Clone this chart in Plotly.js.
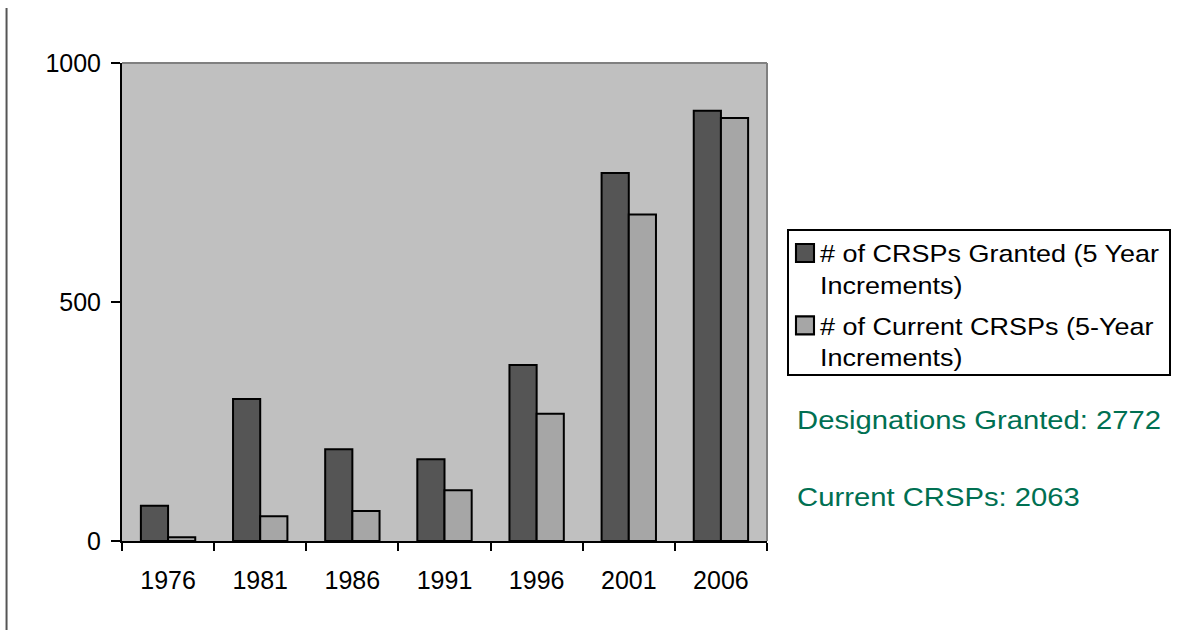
<!DOCTYPE html>
<html>
<head>
<meta charset="utf-8">
<script src="https://cdn.plot.ly/plotly-3.0.1.min.js"></script>
<style>
html,body{margin:0;padding:0;background:#fff;}
#chart{width:1183px;height:630px;}
</style>
</head>
<body>
<div id="chart"></div>
<script>
var years = ["1976","1981","1986","1991","1996","2001","2006"];
var granted = [74, 297, 192, 171, 368, 770, 900];
var current = [8, 52, 63, 106, 266, 683, 885];
var seriesNames = ["# of CRSPs Granted (5 Year<br>Increments)", "# of Current CRSPs (5-Year<br>Increments)"];
var boundaries = [-0.5, 0.5, 1.5, 2.5, 3.5, 4.5, 5.5, 6.5];
var yTicks = [0, 500, 1000];
var notes = ["Designations Granted: 2772", "Current CRSPs: 2063"];

var FONT = "Liberation Sans, Arial, sans-serif";
var STRETCH = 1.125;

var traces = [
  {type:"bar", x:years, y:granted, name:seriesNames[0], legendgroup:"g1",
   marker:{color:"#555555", line:{color:"#000000", width:2}}, hoverinfo:"x+y"},
  {type:"bar", x:years, y:current, name:seriesNames[1], legendgroup:"g2",
   marker:{color:"#a6a6a6", line:{color:"#000000", width:2}}, hoverinfo:"x+y"}
];

var layout = {
  width:1183, height:630,
  margin:{l:122, r:416, t:63, b:89, pad:0},
  paper_bgcolor:"#ffffff",
  plot_bgcolor:"#c0c0c0",
  barmode:"group",
  bargap:0.41,
  bargroupgap:0,
  font:{family:FONT, color:"#000000", size:24},
  showlegend:true,
  legend:{x:1.031, y:0.653, xanchor:"left", yanchor:"top", valign:"top",
          bgcolor:"#ffffff", bordercolor:"#000000", borderwidth:2,
          font:{family:FONT, size:24, color:"#000000"},
          traceorder:"grouped", tracegroupgap:7, itemwidth:30},
  xaxis:{type:"category", range:[-0.5,6.5], showgrid:false, zeroline:false,
         showline:true, linecolor:"#000000", linewidth:2,
         ticks:"outside", tickson:"boundaries", ticklen:8, tickwidth:2, tickcolor:"#000000",
         tickfont:{family:FONT, size:25, color:"#000000"}, ticklabelstandoff:16},
  xaxis2:{type:"linear", overlaying:"x", anchor:"y", side:"bottom", range:[-0.5,6.5],
          tickmode:"array", tickvals:boundaries, showticklabels:false,
          ticks:"inside", ticklen:8, tickwidth:2, tickcolor:"#000000",
          showgrid:false, zeroline:false, showline:false},
  yaxis:{range:[0,1000], tickmode:"array", tickvals:yTicks, showgrid:false, zeroline:false,
         showline:true, linecolor:"#000000", linewidth:2,
         ticks:"outside", ticklen:9, tickwidth:2, tickcolor:"#000000",
         tickfont:{family:FONT, size:25, color:"#000000"}, ticklabelstandoff:5},
  yaxis2:{range:[0,1000], overlaying:"y", anchor:"x", side:"left",
          tickmode:"array", tickvals:yTicks, showticklabels:false,
          ticks:"inside", ticklen:9, tickwidth:2, tickcolor:"#000000",
          showgrid:false, zeroline:false, showline:false},
  shapes:[
    {type:"line", xref:"paper", yref:"paper", x0:0, x1:1, y0:1, y1:1, line:{color:"#808080", width:2}, layer:"below"},
    {type:"line", xref:"paper", yref:"paper", x0:1, x1:1, y0:0, y1:1, line:{color:"#808080", width:2}, layer:"below"},
    {type:"line", xref:"paper", yref:"paper", x0:-0.179, x1:-0.179, y0:1.115, y1:-0.2, line:{color:"#555555", width:2}}
  ],
  annotations:[
    {xref:"paper", yref:"paper", x:1.0435, y:0.253, xanchor:"left", yanchor:"middle", showarrow:false,
     text:notes[0], font:{family:FONT, size:26, color:"#007052"}},
    {xref:"paper", yref:"paper", x:1.0435, y:0.092, xanchor:"left", yanchor:"middle", showarrow:false,
     text:notes[1], font:{family:FONT, size:26, color:"#007052"}}
  ]
};

function stretchText(el, s, shift) {
  var bb = el.getBBox();
  var ax = bb.x;
  var t = el.getAttribute("transform") || "";
  el.setAttribute("transform", t + " translate(" + (shift||0) + ",0) translate(" + ax + ",0) scale(" + s + ",1) translate(" + (-ax) + ",0)");
}

Plotly.newPlot("chart", traces, layout, {displayModeBar:false, staticPlot:true}).then(function (gd) {
  // the reference's text is slightly wider than the installed Arial metrics
  gd.querySelectorAll(".annotation-text").forEach(function (el) { stretchText(el, STRETCH, 0); });
  gd.querySelectorAll(".legend .legendtext").forEach(function (el) { stretchText(el, STRETCH, -9); });
  gd.querySelectorAll(".legend .legendpoints path").forEach(function (p) {
    var t = p.getAttribute("transform") || "";
    p.setAttribute("transform", t + " translate(-4,0) scale(1.5)");
    p.style.strokeWidth = "1.4px";
  });
  // widen the legend box so the wider text fits, and trim its bottom padding
  var bg = gd.querySelector(".legend rect.bg");
  if (bg) {
    var rb = bg.getBoundingClientRect();
    var maxR = 0;
    gd.querySelectorAll(".legend .legendtext").forEach(function (el) {
      maxR = Math.max(maxR, el.getBoundingClientRect().right);
    });
    var w = Math.ceil(maxR - rb.left + 10);
    var h = parseFloat(bg.getAttribute("height")) - 5;
    bg.setAttribute("width", w);
    bg.setAttribute("height", h);
    document.querySelectorAll("clipPath").forEach(function (cp) {
      if (cp.id && cp.id.indexOf("legend") === 0) {
        cp.querySelectorAll("rect").forEach(function (r) { r.setAttribute("width", w); r.setAttribute("height", h); });
      }
    });
  }
});
</script>
</body>
</html>
